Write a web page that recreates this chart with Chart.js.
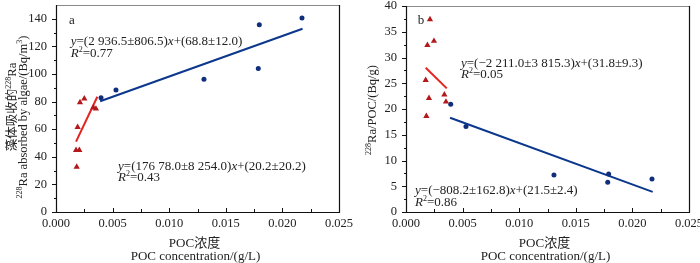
<!DOCTYPE html>
<html>
<head>
<meta charset="utf-8">
<script src="https://cdn.jsdelivr.net/npm/chart.js@4.4.0/dist/chart.umd.min.js"></script>
<style>
  html, body { margin: 0; padding: 0; background: #fff; width: 700px; height: 263px; overflow: hidden; }
  .panel { position: absolute; top: 0; width: 360px; height: 263px; }
  #panelA { left: 0; }
  #panelB { left: 350px; }
</style>
</head>
<body>
<div class="panel" id="panelA"><canvas id="chartA" width="360" height="263"></canvas></div>
<div class="panel" id="panelB"><canvas id="chartB" width="360" height="263"></canvas></div>
<script>
// tick labels
let xTicks = [0, 0.005, 0.010, 0.015, 0.020, 0.025];
let yTicksA = [0, 20, 40, 60, 80, 100, 120, 140];
let yTicksB = [0, 5, 10, 15, 20, 25, 30, 35, 40];

// panel a: 228Ra absorbed by algae vs POC
let aRedX  = [0.00183, 0.00177, 0.00206, 0.00191, 0.00212, 0.00250, 0.00330, 0.00353];
let aRedY  = [32.7, 44.8, 44.8, 61.5, 79.4, 82.1, 75.6, 74.8];
let aBlueX = [0.00398, 0.00530, 0.01307, 0.01787, 0.01796, 0.02173];
let aBlueY = [82.8, 88.4, 96.2, 103.9, 135.6, 140.5];
let aRedFitX  = [0.00177, 0.00365];
let aRedFitY  = [51.0, 83.5];
let aBlueFitX = [0.00390, 0.02178];
let aBlueFitY = [80.3, 132.8];

// panel b: 228Ra/POC vs POC
let bRedX  = [0.00212, 0.00189, 0.00247, 0.00174, 0.00203, 0.00180, 0.00339, 0.00353];
let bRedY  = [37.4, 32.4, 33.2, 25.6, 22.1, 18.6, 22.8, 21.4];
let bBlueX = [0.00395, 0.00530, 0.01307, 0.01790, 0.01782, 0.02173];
let bBlueY = [20.9, 16.6, 7.2, 7.4, 5.8, 6.4];
let bRedFitX  = [0.00174, 0.00360];
let bRedFitY  = [28.0, 24.0];
let bBlueFitX = [0.00389, 0.02179];
let bBlueFitY = [18.3, 3.9];

// texts (*..* italic, ^..^ superscript)
let xTitle = ['POC浓度', 'POC concentration/(g/L)'];
let yTitleA = ['藻体吸收的^228^Ra', '^228^Ra absorbed by algae/(Bq/m^3^)'];
let yTitleB = ['^228^Ra/POC/(Bq/g)'];
let eqA = ['*y*=(2 936.5±806.5)*x*+(68.8±12.0)', '*R*^2^=0.77', '*y*=(176 78.0±8 254.0)*x*+(20.2±20.2)', '*R*^2^=0.43'];
let eqB = ['*y*=(−2 211.0±3 815.3)*x*+(31.8±9.3)', '*R*^2^=0.05', '*y*=(−808.2±162.8)*x*+(21.5±2.4)', '*R*^2^=0.86'];

const FONT = "'Liberation Serif', 'Noto Sans CJK SC', serif";
const TEXT = '#222';
const RED_PT = '#b3191c';
const RED_LN = '#e5231f';
const BLUE_PT = '#0f2f7c';
const BLUE_LN = '#0b378c';

function pts(xs, ys) {
	return xs.map((x, i) => ({x: x, y: ys[i]}));
}

function parseRich(str) {
	return str.split(/(\*[^*]+\*|\^[^^]+\^)/).filter(s => s.length).map(s => {
		if (s[0] === '*') return {t: s.slice(1, -1), it: true};
		if (s[0] === '^') return {t: s.slice(1, -1), sup: true};
		return {t: s};
	});
}

function segFont(seg, size) {
	let sz = seg.sup ? Math.round(size * 0.6) : size;
	return (seg.it ? 'italic ' : '') + sz + 'px ' + FONT;
}

// draws text with italic/superscript parts, y is the vertical middle
function drawRich(ctx, str, x, y, size, align) {
	let segs = parseRich(str);
	let w = 0;
	segs.forEach(s => { ctx.font = segFont(s, size); w += ctx.measureText(s.t).width; });
	let cx = align === 'center' ? x - w / 2 : x;
	let base = y + size * 0.33;
	ctx.textBaseline = 'alphabetic';
	ctx.textAlign = 'left';
	ctx.fillStyle = TEXT;
	segs.forEach(s => {
		ctx.font = segFont(s, size);
		ctx.fillText(s.t, cx, s.sup ? base - size * 0.4 : base);
		cx += ctx.measureText(s.t).width;
	});
}

let decorPlugin = {
	id: 'decor',
	afterDraw(chart, args, opts) {
		let ctx = chart.ctx;
		let area = chart.chartArea;
		let xs = chart.scales.x, ys = chart.scales.y;
		ctx.save();

		// frame
		ctx.lineWidth = 1.2;
		ctx.strokeStyle = '#8a8a8a';
		ctx.beginPath();
		ctx.moveTo(area.left, area.top + 0.5);
		ctx.lineTo(area.right, area.top + 0.5);
		ctx.stroke();
		ctx.strokeStyle = '#111';
		ctx.beginPath();
		ctx.moveTo(area.left + 0.5, area.top);
		ctx.lineTo(area.left + 0.5, area.bottom + 0.5);
		ctx.lineTo(area.right + 0.5, area.bottom + 0.5);
		ctx.lineTo(area.right + 0.5, area.top);
		ctx.stroke();

		// ticks: y outward, x inward, with minor ticks halfway
		ctx.lineWidth = 1;
		ctx.beginPath();
		opts.yTicks.forEach((v, i) => {
			let p = Math.round(ys.getPixelForValue(v)) + 0.5;
			ctx.moveTo(area.left - 4, p); ctx.lineTo(area.left, p);
			let m = v + opts.yMinor;
			if (m < ys.max) {
				let q = Math.round(ys.getPixelForValue(m)) + 0.5;
				ctx.moveTo(area.left - 2, q); ctx.lineTo(area.left, q);
			}
		});
		xTicks.forEach((v, i) => {
			let p = Math.round(xs.getPixelForValue(v)) + 0.5;
			ctx.moveTo(p, area.bottom); ctx.lineTo(p, area.bottom - 4);
			if (i < xTicks.length - 1) {
				let q = Math.round(xs.getPixelForValue(v + 0.0025)) + 0.5;
				ctx.moveTo(q, area.bottom); ctx.lineTo(q, area.bottom - 3);
			}
		});
		ctx.stroke();

		// x title
		let cxm = (area.left + area.right) / 2;
		drawRich(ctx, xTitle[0], cxm - 3, 243, 13, 'center');
		drawRich(ctx, xTitle[1], cxm - 2, 256, 13, 'center');

		// y title, rotated
		opts.yTitle.forEach((line, i) => {
			ctx.save();
			ctx.translate(opts.yTitlePos[i][0], opts.yTitlePos[i][1]);
			ctx.rotate(-Math.PI / 2);
			drawRich(ctx, line, 0, 0, 12.5, 'center');
			ctx.restore();
		});

		// panel letter and fit equations
		drawRich(ctx, opts.letter, xs.getPixelForValue(opts.letterAt[0]), ys.getPixelForValue(opts.letterAt[1]), 13, 'left');
		opts.eq.forEach((t, i) => {
			let at = opts.eqAt[i];
			drawRich(ctx, t, xs.getPixelForValue(at[0]), ys.getPixelForValue(at[1]), 13, 'left');
		});
		ctx.restore();
	}
};

function makeChart(id, cfg) {
	let tickFont = {family: FONT, size: 12.5, lineHeight: 1};
	return new Chart(document.getElementById(id), {
		type: 'scatter',
		data: {
			datasets: [{
				data: pts(cfg.redX, cfg.redY),
				pointStyle: 'triangle', pointRadius: 3.6, backgroundColor: RED_PT, borderWidth: 0, showLine: false
			}, {
				data: pts(cfg.blueX, cfg.blueY),
				pointStyle: 'circle', pointRadius: 2.5, backgroundColor: BLUE_PT, borderWidth: 0, showLine: false
			}, {
				data: pts(cfg.redFitX, cfg.redFitY),
				showLine: true, pointRadius: 0, borderColor: RED_LN, borderWidth: 2
			}, {
				data: pts(cfg.blueFitX, cfg.blueFitY),
				showLine: true, pointRadius: 0, borderColor: BLUE_LN, borderWidth: 2
			}]
		},
		options: {
			responsive: false,
			animation: false,
			layout: {padding: {top: cfg.top, right: 21, left: 0, bottom: 0}},
			plugins: {
				legend: {display: false},
				tooltip: {enabled: false},
				decor: cfg.decor
			},
			scales: {
				x: {
					type: 'linear', min: 0, max: 0.025,
					afterBuildTicks: s => { s.ticks = xTicks.map(v => ({value: v})); },
					afterFit: s => { s.height = 51; },
					ticks: {font: tickFont, color: TEXT, padding: 5, maxRotation: 0, callback: v => v.toFixed(3)},
					grid: {display: false, drawTicks: false},
					border: {display: false}
				},
				y: {
					type: 'linear', min: 0, max: cfg.yMax,
					afterBuildTicks: s => { s.ticks = cfg.decor.yTicks.map(v => ({value: v})); },
					afterFit: s => { s.width = 56; s.paddingTop = 0; s.paddingBottom = 0; },
					ticks: {font: tickFont, color: TEXT, padding: 9},
					grid: {display: false, drawTicks: false},
					border: {display: false}
				}
			}
		},
		plugins: [decorPlugin]
	});
}

makeChart('chartA', {
	redX: aRedX, redY: aRedY, blueX: aBlueX, blueY: aBlueY,
	redFitX: aRedFitX, redFitY: aRedFitY, blueFitX: aBlueFitX, blueFitY: aBlueFitY,
	yMax: 150, top: 5,
	decor: {
		yTicks: yTicksA, yMinor: 10,
		yTitle: yTitleA, yTitlePos: [[12, 107], [23, 117]],
		letter: 'a', letterAt: [0.00115, 139],
		eq: eqA, eqAt: [[0.0013, 124], [0.0013, 115.5], [0.00548, 33.9], [0.00548, 25.4]]
	}
});

makeChart('chartB', {
	redX: bRedX, redY: bRedY, blueX: bBlueX, blueY: bBlueY,
	redFitX: bRedFitX, redFitY: bRedFitY, blueFitX: bBlueFitX, blueFitY: bBlueFitY,
	yMax: 40, top: 6,
	decor: {
		yTicks: yTicksB, yMinor: 2.5,
		yTitle: yTitleB, yTitlePos: [[22, 110]],
		letter: 'b', letterAt: [0.00103, 37.4],
		eq: eqB, eqAt: [[0.00486, 29.0], [0.00486, 26.8], [0.0008, 4.3], [0.0008, 2.05]]
	}
});
</script>
</body>
</html>
